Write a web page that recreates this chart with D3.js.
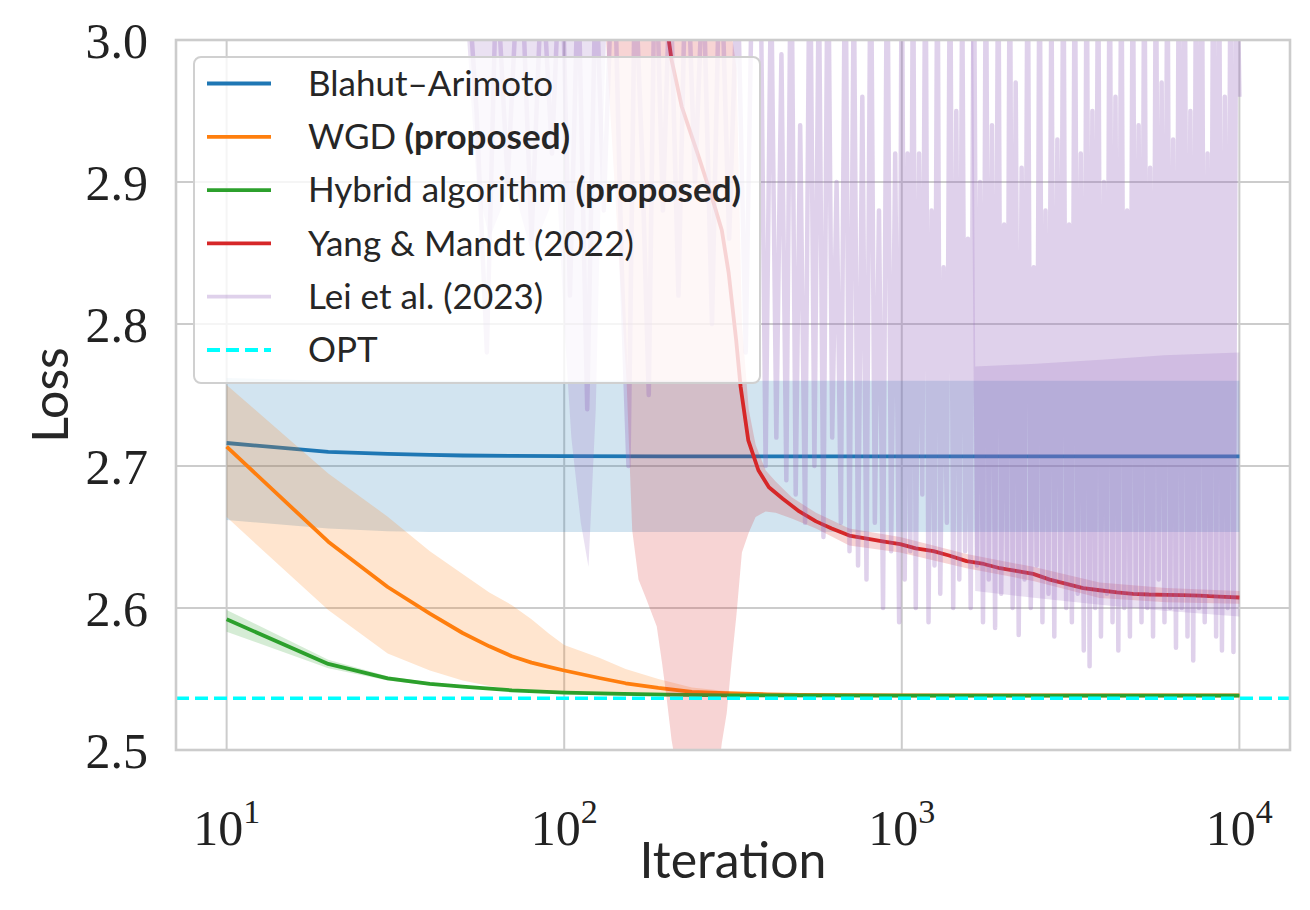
<!DOCTYPE html>
<html>
<head>
<meta charset="utf-8">
<script src="https://cdn.jsdelivr.net/npm/d3@7"></script>
<style>
  body { margin: 0; background: #fff; }
</style>
</head>
<body>
<div id="chart"></div>
<script>
// ---- data ----
const blueIter = [10, 20, 30, 40, 50, 70, 100, 200, 500, 1000, 10000];
const blueLoss = [2.7162, 2.710, 2.7085, 2.7078, 2.7074, 2.7071, 2.707, 2.7068, 2.7068, 2.7068, 2.7068];
const blueLow  = [2.662, 2.656, 2.654, 2.6535, 2.6535, 2.6535, 2.6535, 2.6535, 2.6535, 2.6535, 2.6535];
const blueHigh = [2.762, 2.760, 2.760, 2.760, 2.760, 2.760, 2.760, 2.760, 2.760, 2.760, 2.760];

const orangeIter = [10, 20, 30, 40, 50, 60, 70, 80, 90, 100, 127, 152, 190, 239, 300, 400, 500, 1000, 10000];
const orangeLoss = [2.7136, 2.6467, 2.6148, 2.596, 2.5824, 2.573, 2.566, 2.5615, 2.5585, 2.556, 2.5507, 2.547, 2.5437, 2.541, 2.540, 2.5392, 2.5388, 2.5385, 2.5385];
const orangeHigh = [2.757, 2.6948, 2.6643, 2.640, 2.624, 2.611, 2.602, 2.592, 2.582, 2.574, 2.565, 2.557, 2.550, 2.544, 2.5415, 2.540, 2.5395, 2.539, 2.539];
const orangeLow  = [2.664, 2.5986, 2.568, 2.556, 2.549, 2.545, 2.5425, 2.541, 2.540, 2.5395, 2.5385, 2.538, 2.5378, 2.5376, 2.5375, 2.5378, 2.538, 2.538, 2.538];

const greenIter = [10, 20, 30, 40, 50, 70, 100, 150, 200, 300, 1000, 10000];
const greenLoss = [2.592, 2.5606, 2.5505, 2.5465, 2.5446, 2.542, 2.5404, 2.5395, 2.539, 2.5385, 2.5383, 2.5383];
const greenHigh = [2.5986, 2.5636, 2.552, 2.5475, 2.5453, 2.5425, 2.5408, 2.5398, 2.5393, 2.5387, 2.5385, 2.5385];
const greenLow  = [2.5833, 2.5576, 2.549, 2.5455, 2.5439, 2.5415, 2.540, 2.5392, 2.5387, 2.5383, 2.5381, 2.5381];

const redIter = [100, 150, 180, 204, 208, 223, 250, 274, 293, 307, 323, 333, 351, 376, 404, 444, 497, 557, 620, 699, 780, 877, 989,
  1100, 1241, 1380, 1556, 1750, 1953, 2200, 2450, 2743, 3075, 3446, 3856, 4340, 4840, 5400, 6070, 6800, 7620, 8700, 10000];
const redLoss = [3.40, 3.12, 3.04, 3.00, 2.986, 2.953, 2.918, 2.889, 2.866, 2.836, 2.789, 2.756, 2.718, 2.697, 2.685, 2.677, 2.668, 2.661, 2.656, 2.651, 2.649, 2.647, 2.645,
  2.642, 2.640, 2.637, 2.633, 2.631, 2.628, 2.626, 2.624, 2.620, 2.617, 2.614, 2.6125, 2.611, 2.610, 2.6095, 2.6093, 2.609, 2.6087, 2.608, 2.6074];
const redBandIter = [120, 133, 145, 153, 159, 166, 174, 188, 195, 201, 208, 214, 230, 260, 285, 293, 303, 313, 324, 336, 352, 369, 395, 423, 472, 557, 699, 989, 1556, 2450, 3856, 6070, 10000];
const redLow  = [3.10, 3.00, 2.85, 2.76, 2.655, 2.620, 2.608, 2.587, 2.561, 2.537, 2.507, 2.49, 2.46, 2.45, 2.48, 2.505, 2.526, 2.561, 2.596, 2.639, 2.653, 2.664, 2.668, 2.667, 2.663, 2.656, 2.644, 2.639, 2.628, 2.619, 2.607, 2.604, 2.603];
const redHigh = [3.50, 3.40, 3.35, 3.30, 3.28, 3.25, 3.22, 3.20, 3.18, 3.15, 3.13, 3.12, 3.10, 3.07, 3.04, 3.03, 3.015, 3.005, 2.98, 2.80, 2.74, 2.715, 2.697, 2.689, 2.678, 2.667, 2.656, 2.650, 2.638, 2.629, 2.618, 2.614, 2.612];

const leiIter = [10, 20, 30, 40, 50, 55, 59, 63, 68, 74, 80, 86, 92, 98, 104, 110, 117, 124, 131, 140, 148, 155, 162, 170, 178, 186, 196, 206, 218, 230, 244, 258, 274, 290, 308, 326, 345, 362,
  380, 395, 410, 425, 440, 455, 470, 485, 500, 517, 534, 551, 568, 586, 604, 622, 641, 660, 680, 700, 721, 742, 764, 786, 809, 832, 856, 880, 905, 930, 956, 982,
  1000, 1020, 1040, 1060, 1080, 1100, 1125, 1150, 1175, 1200, 1225, 1250, 1275, 1300, 1330, 1360, 1390, 1420, 1450, 1480,
  1510, 1540, 1570, 1600, 1635, 1670, 1705, 1740, 1775, 1810, 1850, 1890, 1930, 1970, 2010, 2050, 2090, 2130, 2175, 2220,
  2265, 2310, 2360, 2410, 2460, 2510, 2560, 2610, 2665, 2720, 2775, 2830, 2890, 2950, 3010, 3070, 3130, 3190, 3255, 3320,
  3390, 3460, 3530, 3600, 3670, 3740, 3815, 3890, 3970, 4050, 4130, 4210, 4295, 4380, 4470, 4560, 4650, 4740, 4835, 4930,
  5030, 5130, 5230, 5335, 5440, 5550, 5660, 5770, 5885, 6000, 6120, 6240, 6365, 6490, 6620, 6750, 6885, 7020, 7160, 7300,
  7445, 7590, 7740, 7895, 8050, 8210, 8370, 8535, 8705, 8880, 9055, 9235, 9420, 9605, 9800, 10000];
const leiLoss = [3.6, 3.4, 3.3, 3.2, 3.1, 2.95, 2.78, 3.05, 2.9, 3.08, 2.86, 3.05, 2.92, 3.08, 2.82, 3.05, 2.74, 3.05, 2.88, 3.08, 2.84, 2.70, 3.05, 2.92, 2.75, 3.08, 2.88, 3.05, 2.82, 3.08, 2.9, 3.05, 2.8, 3.08, 2.86, 3.05, 2.78, 3.08,
  3.10, 2.70, 3.05, 2.72, 2.99, 2.69, 3.10, 2.68, 2.94, 2.66, 3.10, 2.70, 3.05, 2.65, 3.10, 2.72, 2.90, 2.66, 3.10, 2.64, 3.05, 2.63, 2.96, 2.62, 3.10, 2.66, 2.88, 2.60, 3.10, 2.64, 2.92, 2.59,
  3.10, 2.62, 2.92, 2.64, 3.10, 2.60, 2.92, 2.68, 3.10, 2.59, 2.88, 2.63, 3.10, 2.61, 2.84, 2.66, 3.10, 2.60, 2.95, 2.62,
  3.05, 2.64, 2.86, 2.60, 3.10, 2.63, 2.90, 2.59, 3.10, 2.62, 2.94, 2.586, 3.10, 2.61, 2.87, 2.63, 3.10, 2.60, 2.97, 2.581,
  2.91, 2.62, 3.10, 2.60, 2.84, 2.63, 3.10, 2.59, 2.88, 2.61, 3.05, 2.58, 2.93, 2.62, 3.10, 2.60, 2.87, 2.59, 3.10, 2.61,
  2.92, 2.57, 3.10, 2.559, 2.95, 2.60, 3.10, 2.58, 2.90, 2.61, 3.10, 2.59, 2.96, 2.57, 3.10, 2.60, 2.88, 2.58, 3.10, 2.61,
  2.94, 2.59, 3.10, 2.60, 2.91, 2.58, 3.10, 2.62, 2.97, 2.59, 3.10, 2.60, 2.93, 2.572, 3.10, 2.60, 3.10, 2.58, 2.95, 2.563,
  3.10, 2.60, 3.10, 2.59, 2.92, 2.61, 3.10, 2.58, 3.10, 2.57, 2.96, 2.60, 3.10, 2.569, 3.10, 2.96];
const leiBandIter = [50, 55, 60, 70, 80, 90, 95, 100, 105, 112, 118, 124, 128, 135, 300, 1600, 1650, 2500, 4000, 6000, 10000];
const leiLow  = [3.05, 2.90, 2.86, 2.90, 2.85, 2.88, 2.90, 2.80, 2.72, 2.66, 2.629, 2.74, 2.88, 3.05, 3.05, 3.05, 2.612, 2.607, 2.602, 2.598, 2.594];
const leiHigh = [3.30, 3.30, 3.30, 3.30, 3.30, 3.30, 3.30, 3.30, 3.30, 3.30, 3.30, 3.30, 3.30, 3.30, 3.30, 3.30, 2.770, 2.772, 2.775, 2.778, 2.780];

const optLoss = 2.5365;
const xTicks = [10, 100, 1000, 10000];
const yTicks = [2.5, 2.6, 2.7, 2.8, 2.9, 3.0];

const seriesNames = ["Blahut\u2013Arimoto", "WGD", "Hybrid algorithm", "Yang & Mandt (2022)", "Lei et al. (2023)", "OPT"];
const seriesBold  = ["", "(proposed)", "(proposed)", "", "", ""];

// ---- layout ----
const margin = {top: 40, right: 20, bottom: 160, left: 176},
      width = 1310 - margin.left - margin.right,
      height = 910 - margin.top - margin.bottom;

const svg = d3.select('#chart').append('svg')
  .attr('width', 1310)
  .attr('height', 910)

const g = svg.append('g')
  .attr("transform", `translate(${margin.left}, ${margin.top})`)

const x = d3.scaleLog().domain([Math.pow(10, 0.85), Math.pow(10, 4.15)]).range([0, width]);
const y = d3.scaleLinear().domain([2.5, 3.0]).range([height, 0]);

const c = {blue: '#1f77b4', orange: '#ff7f0e', green: '#2ca02c', red: '#d62728', purple: '#9467bd', cyan: '#00ffff'};

svg.append('defs').append('clipPath').attr('id', 'plotclip')
  .append('rect').attr('width', width).attr('height', height);

// grid
g.selectAll('.gx').data(xTicks).enter().append('line')
  .attr('x1', d => x(d)).attr('x2', d => x(d))
  .attr('y1', 0).attr('y2', height)
  .attr('stroke', '#cccccc').attr('stroke-width', 2);
g.selectAll('.gy').data(yTicks).enter().append('line')
  .attr('x1', 0).attr('x2', width)
  .attr('y1', d => y(d)).attr('y2', d => y(d))
  .attr('stroke', '#cccccc').attr('stroke-width', 2);

const plot = g.append('g').attr('clip-path', 'url(#plotclip)');

const zip = (its, a, b) => its.map((it, i) => ({it: it, a: a[i], b: b ? b[i] : null}));
const line = d3.line().x(d => x(d.it)).y(d => y(d.a));
const area = d3.area().x(d => x(d.it)).y0(d => y(d.a)).y1(d => y(d.b));

// one method: mean line plus its shaded band (band may use its own x grid)
function series(its, loss, bandIts, lo, hi, color) {
  plot.append('path').datum(zip(its, loss))
    .attr('d', line).attr('fill', 'none')
    .attr('stroke', color).attr('stroke-width', 3.8)
    .attr('stroke-linejoin', 'round');
  plot.append('path').datum(zip(bandIts, lo, hi))
    .attr('d', area).attr('fill', color).attr('fill-opacity', 0.2);
}

series(blueIter, blueLoss, blueIter, blueLow, blueHigh, c.blue);
series(orangeIter, orangeLoss, orangeIter, orangeLow, orangeHigh, c.orange);
series(greenIter, greenLoss, greenIter, greenLow, greenHigh, c.green);
series(redIter, redLoss, redBandIter, redLow, redHigh, c.red);

// Lei et al. — noisy line drawn transparent
plot.append('path').datum(zip(leiIter, leiLoss))
  .attr('d', line).attr('fill', 'none')
  .attr('stroke', c.purple).attr('stroke-opacity', 0.3).attr('stroke-width', 4.5)
  .attr('stroke-linejoin', 'round');
plot.append('path').datum(zip(leiBandIter, leiLow, leiHigh))
  .attr('d', area).attr('fill', c.purple).attr('fill-opacity', 0.2);

// OPT
plot.append('line')
  .attr('x1', 0).attr('x2', width)
  .attr('y1', y(optLoss)).attr('y2', y(optLoss))
  .attr('stroke', c.cyan).attr('stroke-width', 3.5).attr('stroke-dasharray', '13,6');

// frame
g.append('rect').attr('width', width).attr('height', height)
  .attr('fill', 'none').attr('stroke', '#cccccc').attr('stroke-width', 2.6);

// tick labels
const serif = '"Liberation Serif", "DejaVu Serif", serif';
const sans = 'Lato, "Open Sans", sans-serif';

g.selectAll('.yl').data(yTicks).enter().append('text')
  .attr('x', -28).attr('y', d => y(d)).attr('dy', '0.35em')
  .attr('text-anchor', 'end')
  .style('font-family', serif).style('font-size', '50px').attr('fill', '#222')
  .text(d => d.toFixed(1));

const xl = g.selectAll('.xl').data(xTicks).enter().append('text')
  .attr('x', d => x(d)).attr('y', height + 95)
  .attr('text-anchor', 'middle')
  .style('font-family', serif).style('font-size', '50px').attr('fill', '#222');
xl.append('tspan').text('10');
xl.append('tspan').attr('dy', -22).style('font-size', '34px').text(d => Math.round(Math.log10(d)));

// axis titles
svg.append('text')
  .attr('x', margin.left + width / 2).attr('y', 878)
  .attr('text-anchor', 'middle')
  .style('font-family', sans).style('font-size', '50px').attr('fill', '#262626')
  .text('Iteration');
svg.append('text')
  .attr('transform', `translate(68, ${margin.top + height / 2}) rotate(-90)`)
  .attr('text-anchor', 'middle')
  .style('font-family', sans).style('font-size', '50px').attr('fill', '#262626')
  .text('Loss');

// legend
const legendColors = [c.blue, c.orange, c.green, c.red, c.purple, c.cyan];
const lg = svg.append('g');
lg.append('rect')
  .attr('x', 194).attr('y', 57).attr('width', 566).attr('height', 326).attr('rx', 7)
  .attr('fill', '#fff').attr('fill-opacity', 0.8)
  .attr('stroke', '#d0d0d0').attr('stroke-width', 2);

const rows = lg.selectAll('.row').data(seriesNames).enter().append('g')
  .attr('transform', (d, i) => `translate(0, ${83.5 + i * 53.3})`);
rows.append('line')
  .attr('x1', 207).attr('x2', 271).attr('y1', 0).attr('y2', 0)
  .attr('stroke', (d, i) => legendColors[i])
  .attr('stroke-opacity', (d, i) => i === 4 ? 0.3 : 1)
  .attr('stroke-width', 3.8)
  .attr('stroke-dasharray', (d, i) => i === 5 ? '13,6' : null);
const lt = rows.append('text')
  .attr('x', 308).attr('dy', '0.35em')
  .style('font-family', sans).style('font-size', '35px').attr('fill', '#262626');
lt.append('tspan').text(d => d);
lt.append('tspan').style('font-weight', 'bold')
  .text((d, i) => seriesBold[i] ? ' ' + seriesBold[i] : '');
</script>
</body>
</html>
